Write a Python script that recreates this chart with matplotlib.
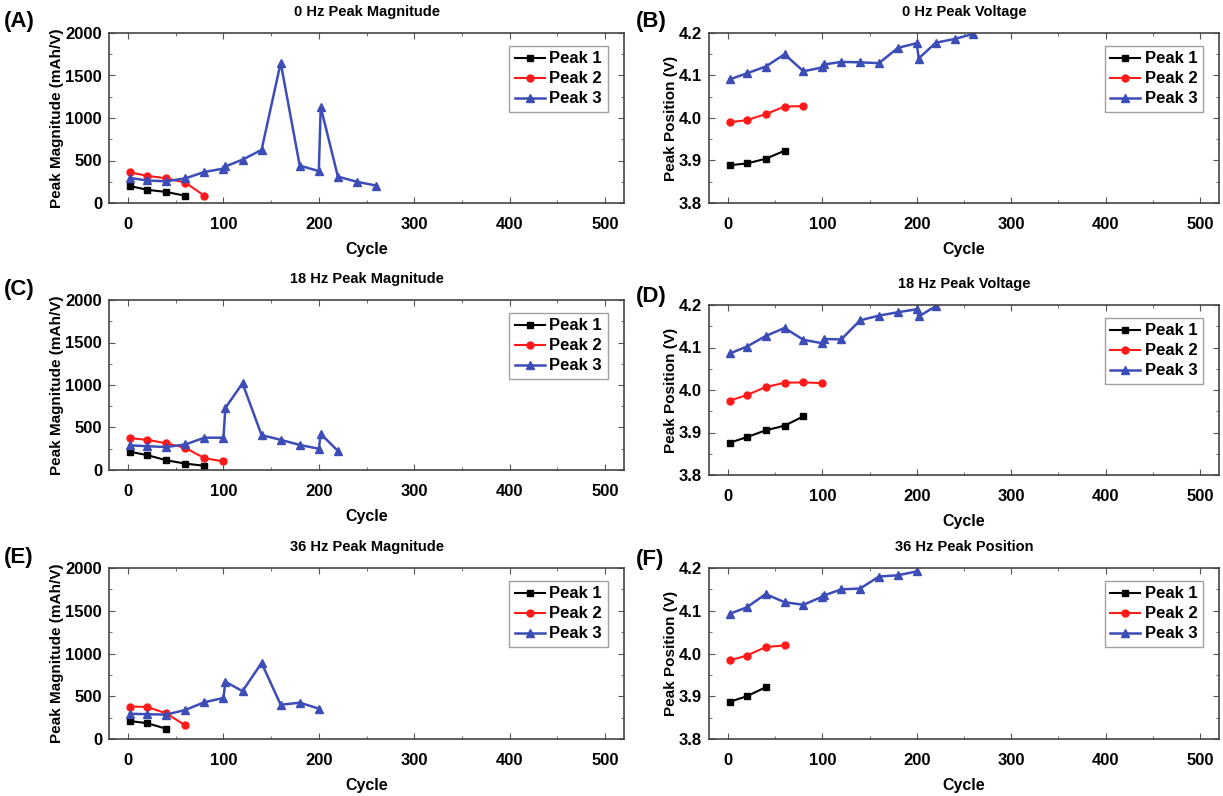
import matplotlib
matplotlib.use("Agg")
import matplotlib.pyplot as plt
import matplotlib.ticker as ticker

plt.rcParams["font.family"] = ["Liberation Sans", "DejaVu Sans"]
plt.rcParams["font.weight"] = "bold"

BLACK = "#000000"
RED = "#ff1a1a"
BLUE = "#3d4db7"

# (A) 0 Hz magnitude
a_p1_x = [2, 20, 40, 60]
a_p1_y = [200, 155, 130, 85]
a_p2_x = [2, 20, 40, 60, 80]
a_p2_y = [360, 320, 290, 240, 85]
a_p3_x = [2, 20, 40, 60, 80, 100, 102, 120, 140, 160, 180, 200, 202, 220, 240, 260]
a_p3_y = [295, 265, 255, 290, 365, 405, 430, 510, 625, 1650, 440, 375, 1130, 310, 250, 205]

# (B) 0 Hz voltage
b_p1_x = [2, 20, 40, 60]
b_p1_y = [3.889, 3.893, 3.904, 3.923]
b_p2_x = [2, 20, 40, 60, 80]
b_p2_y = [3.990, 3.995, 4.009, 4.027, 4.028]
b_p3_x = [2, 20, 40, 60, 80, 100, 102, 120, 140, 160, 180, 200, 202, 220, 240, 260]
b_p3_y = [4.091, 4.105, 4.121, 4.150, 4.110, 4.119, 4.126, 4.132, 4.131, 4.129,
          4.165, 4.176, 4.140, 4.177, 4.186, 4.198]

# (C) 18 Hz magnitude
c_p1_x = [2, 20, 40, 60, 80]
c_p1_y = [215, 175, 115, 75, 50]
c_p2_x = [2, 20, 40, 60, 80, 100]
c_p2_y = [375, 355, 315, 260, 140, 100]
c_p3_x = [2, 20, 40, 60, 80, 100, 102, 120, 140, 160, 180, 200, 202, 220]
c_p3_y = [290, 280, 270, 300, 380, 380, 730, 1020, 410, 355, 295, 250, 425, 225]

# (D) 18 Hz voltage
d_p1_x = [2, 20, 40, 60, 80]
d_p1_y = [3.876, 3.889, 3.905, 3.916, 3.938]
d_p2_x = [2, 20, 40, 60, 80, 100]
d_p2_y = [3.975, 3.988, 4.007, 4.017, 4.018, 4.016]
d_p3_x = [2, 20, 40, 60, 80, 100, 102, 120, 140, 160, 180, 200, 202, 220]
d_p3_y = [4.086, 4.102, 4.127, 4.146, 4.118, 4.110, 4.120, 4.119, 4.164, 4.175,
          4.183, 4.190, 4.173, 4.197]

# (E) 36 Hz magnitude
e_p1_x = [2, 20, 40]
e_p1_y = [210, 185, 120]
e_p2_x = [2, 20, 40, 60]
e_p2_y = [380, 375, 300, 160]
e_p3_x = [2, 20, 40, 60, 80, 100, 102, 120, 140, 160, 180, 200]
e_p3_y = [295, 290, 285, 340, 430, 480, 670, 560, 890, 400, 425, 355]

# (F) 36 Hz position
f_p1_x = [2, 20, 40]
f_p1_y = [3.887, 3.900, 3.921]
f_p2_x = [2, 20, 40, 60]
f_p2_y = [3.984, 3.995, 4.015, 4.019]
f_p3_x = [2, 20, 40, 60, 80, 100, 102, 120, 140, 160, 180, 200]
f_p3_y = [4.093, 4.108, 4.139, 4.120, 4.114, 4.133, 4.136, 4.150, 4.152, 4.180, 4.183, 4.192]

panels = [
    ("(A)", "0 Hz Peak Magnitude", "mag", (a_p1_x, a_p1_y), (a_p2_x, a_p2_y), (a_p3_x, a_p3_y)),
    ("(B)", "0 Hz Peak Voltage", "pos", (b_p1_x, b_p1_y), (b_p2_x, b_p2_y), (b_p3_x, b_p3_y)),
    ("(C)", "18 Hz Peak Magnitude", "mag", (c_p1_x, c_p1_y), (c_p2_x, c_p2_y), (c_p3_x, c_p3_y)),
    ("(D)", "18 Hz Peak Voltage", "pos", (d_p1_x, d_p1_y), (d_p2_x, d_p2_y), (d_p3_x, d_p3_y)),
    ("(E)", "36 Hz Peak Magnitude", "mag", (e_p1_x, e_p1_y), (e_p2_x, e_p2_y), (e_p3_x, e_p3_y)),
    ("(F)", "36 Hz Peak Position", "pos", (f_p1_x, f_p1_y), (f_p2_x, f_p2_y), (f_p3_x, f_p3_y)),
]

W, H = 1223, 796
# axes boxes in pixels: left, top, right, bottom
boxes = [
    (109, 33, 624, 203), (709, 33, 1219, 203),
    (109, 300, 624, 470), (709, 305, 1219, 475),
    (109, 568, 624, 739), (709, 568, 1219, 739),
]
letter_pos = [(4, 22), (636, 22), (4, 290), (636, 296), (4, 557), (636, 560)]

fig = plt.figure(figsize=(W / 100, H / 100), dpi=100)
for (letter, title, kind, p1, p2, p3), box, lp in zip(panels, boxes, letter_pos):
    left, top, right, bottom = box
    axis = fig.add_axes([left / W, 1 - bottom / H, (right - left) / W, (bottom - top) / H])
    axis.plot(p1[0], p1[1], "s-", color=BLACK, ms=5, lw=1.5, label="Peak 1")
    axis.plot(p2[0], p2[1], "o-", color=RED, ms=5, lw=1.5, label="Peak 2")
    axis.plot(p3[0], p3[1], "^-", color=BLUE, ms=6, lw=1.8, label="Peak 3")
    axis.set_xlim(-20, 520)
    axis.xaxis.set_major_locator(ticker.MultipleLocator(100))
    axis.xaxis.set_minor_locator(ticker.MultipleLocator(50))
    if kind == "mag":
        axis.set_ylim(0, 2000)
        axis.yaxis.set_major_locator(ticker.MultipleLocator(500))
        axis.yaxis.set_minor_locator(ticker.MultipleLocator(250))
        axis.set_ylabel("Peak Magnitude (mAh/V)", fontsize=11, fontweight="bold", labelpad=1)
    else:
        axis.set_ylim(3.8, 4.2)
        axis.yaxis.set_major_locator(ticker.MultipleLocator(0.1))
        axis.yaxis.set_minor_locator(ticker.MultipleLocator(0.05))
        axis.yaxis.set_major_formatter(ticker.FormatStrFormatter("%.1f"))
        axis.set_ylabel("Peak Position (V)", fontsize=11, fontweight="bold", labelpad=1)
    axis.tick_params(which="both", direction="in", top=True, right=True, color="#555555")
    axis.tick_params(which="major", length=4, labelsize=12)
    axis.tick_params(axis="x", which="major", pad=10)
    axis.tick_params(axis="y", which="major", pad=5)
    axis.tick_params(which="minor", length=2.5)
    for label in axis.get_xticklabels() + axis.get_yticklabels():
        label.set_fontweight("bold")
    for spine in axis.spines.values():
        spine.set_color("#444444")
        spine.set_linewidth(1.2)
    axis.set_xlabel("Cycle", fontsize=11.5, fontweight="bold", labelpad=7)
    axis.set_title(title, fontsize=10.5, fontweight="bold", pad=12)
    legend = axis.legend(loc="upper right", fontsize=12, frameon=True, fancybox=False,
                         borderaxespad=0.5, handlelength=1.8, handletextpad=0.25,
                         borderpad=0.35, labelspacing=0.3, bbox_to_anchor=(0.985, 0.975))
    legend.get_frame().set_edgecolor("#888888")
    legend.get_frame().set_linewidth(1.0)
    for text in legend.get_texts():
        text.set_fontweight("bold")
    fig.text(lp[0] / W, 1 - lp[1] / H, letter, fontsize=16, fontweight="bold",
             ha="left", va="center")

fig.savefig("out.png", dpi=100)
plt.close(fig)
